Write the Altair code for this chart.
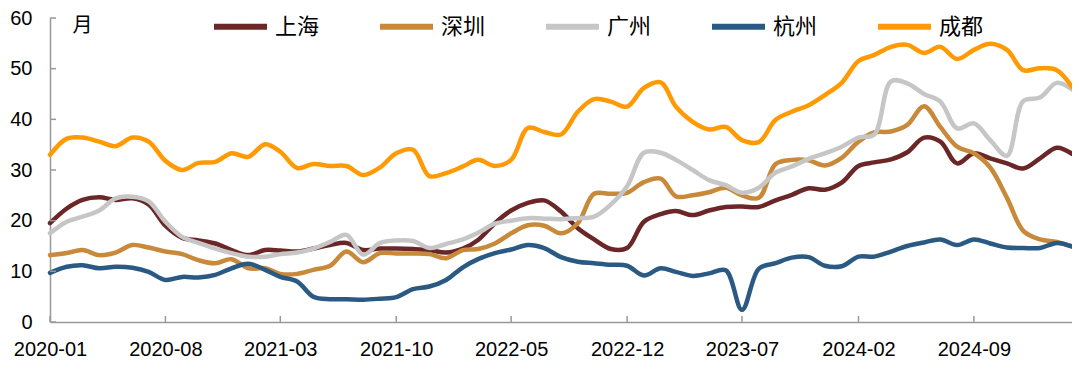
import altair as alt
import pandas as pd

# ---- data (monthly, 2020-01 .. 2025-03) ----
start_month = "2020-01"
end_month = "2025-03"
cities = ["上海", "深圳", "广州", "杭州", "成都"]
colors = ["#6B2727", "#C8893A", "#C6C6C6", "#2A5A83", "#FF9A05"]

shanghai = [19.5, 22.4, 24.1, 24.6, 24.1, 24.4, 23.2, 19.0, 16.6, 16.1,
            15.5, 14.2, 13.2, 14.2, 14.1, 13.9, 14.5, 15.2, 15.6, 14.2,
            14.5, 14.5, 14.4, 14.2, 13.7, 14.5, 16.2, 19.5, 22.0, 23.5,
            24.0, 21.8, 18.5, 16.3, 14.4, 14.6, 19.8, 21.3, 21.9, 21.1,
            22.0, 22.7, 22.8, 22.7, 24.0, 25.1, 26.4, 26.1, 27.5, 30.8,
            31.5, 32.1, 33.5, 36.4, 35.6, 31.3, 33.3, 32.3, 31.3, 30.3,
            32.3, 34.4, 33.2]
shenzhen = [13.2, 13.6, 14.2, 13.2, 13.7, 15.2, 14.7, 13.9, 13.4, 12.2,
            11.6, 12.4, 10.6, 10.6, 9.5, 9.5, 10.3, 11.1, 13.9, 11.8,
            13.6, 13.5, 13.5, 13.4, 12.6, 14.2, 14.4, 15.5, 17.5, 19.1,
            19.0, 17.5, 19.5, 25.3, 25.3, 25.5, 27.6, 28.3, 24.8, 25.0,
            25.6, 26.5, 25.0, 24.5, 31.2, 32.0, 31.9, 30.9, 32.4, 35.6,
            37.4, 37.6, 38.9, 42.6, 38.5, 34.6, 33.3, 30.5, 24.5, 18.0,
            16.3, 15.8, 14.9]
guangzhou = [17.5, 19.8, 20.8, 22.0, 24.4, 24.7, 23.8, 19.8, 16.8, 15.6,
             14.5, 13.6, 12.9, 12.9, 13.4, 13.7, 14.5, 15.8, 17.2, 13.3,
             15.6, 16.1, 16.0, 14.6, 15.4, 16.3, 17.6, 19.4, 20.0, 20.5,
             20.4, 20.3, 20.5, 20.8, 23.2, 26.8, 33.4, 33.4, 32.0, 30.0,
             28.0, 27.0, 25.5, 26.5, 29.5, 30.7, 32.2, 33.3, 34.6, 36.4,
             37.0, 47.5, 47.1, 45.0, 43.5, 38.2, 39.2, 35.9, 32.8, 43.6,
             44.3, 47.2, 45.9]
hangzhou = [9.7, 10.9, 11.2, 10.6, 10.9, 10.7, 9.9, 8.3, 8.9, 8.8,
            9.3, 10.6, 11.5, 10.3, 8.9, 8.0, 5.0, 4.5, 4.5, 4.4,
            4.6, 4.9, 6.5, 7.0, 8.3, 10.8, 12.4, 13.6, 14.3, 15.2,
            14.6, 12.8, 11.9, 11.6, 11.3, 11.1, 9.2, 10.6, 9.9, 9.1,
            9.6, 10.2, 2.4, 10.5, 11.6, 12.7, 12.8, 11.1, 11.0, 12.9,
            12.9, 13.9, 15.0, 15.7, 16.3, 15.2, 16.3, 15.5, 14.7, 14.6,
            14.6, 15.6, 14.9]
chengdu = [33.0, 36.2, 36.4, 35.6, 34.7, 36.4, 35.6, 31.8, 30.0, 31.4,
           31.6, 33.3, 32.6, 35.1, 33.6, 30.4, 31.2, 30.8, 30.8, 29.0,
           30.5, 33.3, 34.0, 28.8, 29.4, 30.7, 32.0, 30.8, 32.0, 38.3,
           37.5, 37.0, 41.5, 44.0, 43.5, 42.5, 46.2, 47.3, 42.5, 39.5,
           38.0, 38.5, 35.9, 35.5, 39.9, 41.5, 42.8, 44.8, 47.2, 51.5,
           52.7, 54.3, 54.7, 53.1, 54.3, 51.9, 53.7, 54.9, 53.7, 49.7,
           50.1, 49.7, 46.4]

x_tick_labels = ["2020-01", "2020-08", "2021-03", "2021-10", "2022-05",
                 "2022-12", "2023-07", "2024-02", "2024-09"]
y_ticks = [0, 10, 20, 30, 40, 50, 60]

# ---- build table ----
months = pd.date_range(start_month + "-01", end_month + "-01", freq="MS")
series = [shanghai, shenzhen, guangzhou, hangzhou, chengdu]
rows = []
for c, vals in zip(cities, series):
    for m, v in zip(months, vals):
        rows.append({"month": m.strftime("%Y/%m/%d"), "city": c, "value": v})
df = pd.DataFrame(rows)

xt_df = pd.DataFrame({"d": [s.replace("-", "/") + "/01" for s in x_tick_labels]})
yt_df = pd.DataFrame({"v": y_ticks})
tick_dates = [alt.DateTime(year=int(s[:4]), month=int(s[5:])) for s in x_tick_labels]

W, H = 1022, 304
AXIS_COLOR = "#999999"
NUM_FONT = "Liberation Sans"
CJK_FONT = "Noto Sans CJK SC"

x_scale = alt.Scale(domain=[alt.DateTime(year=2020, month=1), alt.DateTime(year=2025, month=3)])
y_scale = alt.Scale(domain=[0, 60], nice=False)

lines = alt.Chart(df).mark_line(
    interpolate="catmull-rom", strokeWidth=4.5, strokeCap="round", strokeJoin="round"
).encode(
    x=alt.X("month:T", scale=x_scale,
            axis=alt.Axis(values=tick_dates, format="%Y-%m", title=None,
                          labelPadding=17, labelOverlap=False, labelFlush=False)),
    y=alt.Y("value:Q", scale=y_scale,
            axis=alt.Axis(values=y_ticks, title="月", titleAngle=0, titleX=22, titleY=-3,
                          titleAlign="left", titleBaseline="top", labelPadding=18)),
    color=alt.Color("city:N", scale=alt.Scale(domain=cities, range=colors),
                    legend=alt.Legend(orient="none", legendX=161, legendY=-21,
                                      direction="horizontal", title=None,
                                      symbolType="stroke", symbolSize=2809,
                                      symbolStrokeWidth=6, labelFont=CJK_FONT,
                                      labelFontSize=22, labelColor="#000000",
                                      labelOffset=5, columnPadding=48, padding=0)),
)

xticks = alt.Chart(xt_df).mark_rule(color=AXIS_COLOR, strokeWidth=1.5).encode(
    x=alt.X("d:T"),
    y=alt.value(H), y2=alt.value(H - 6),
)
yticks = alt.Chart(yt_df).mark_rule(color=AXIS_COLOR, strokeWidth=1.5).encode(
    y=alt.Y("v:Q"),
    x=alt.value(0), x2=alt.value(6),
)

chart = alt.layer(lines, xticks, yticks).properties(
    width=W, height=H,
    background="white",
    autosize=alt.AutoSizeParams(type="none"),
    padding={"left": 42, "top": 10, "right": 0, "bottom": 40},
).configure_view(
    stroke=None
).configure_axis(
    grid=False, ticks=False,
    labelFont=NUM_FONT, labelFontSize=20, labelColor="#000000",
    titleFont=CJK_FONT, titleFontSize=20, titleFontWeight="normal", titleColor="#000000",
    domainColor=AXIS_COLOR, domainWidth=1.5,
)

chart.save("out.html", embed_options={"renderer": "svg", "actions": False})
